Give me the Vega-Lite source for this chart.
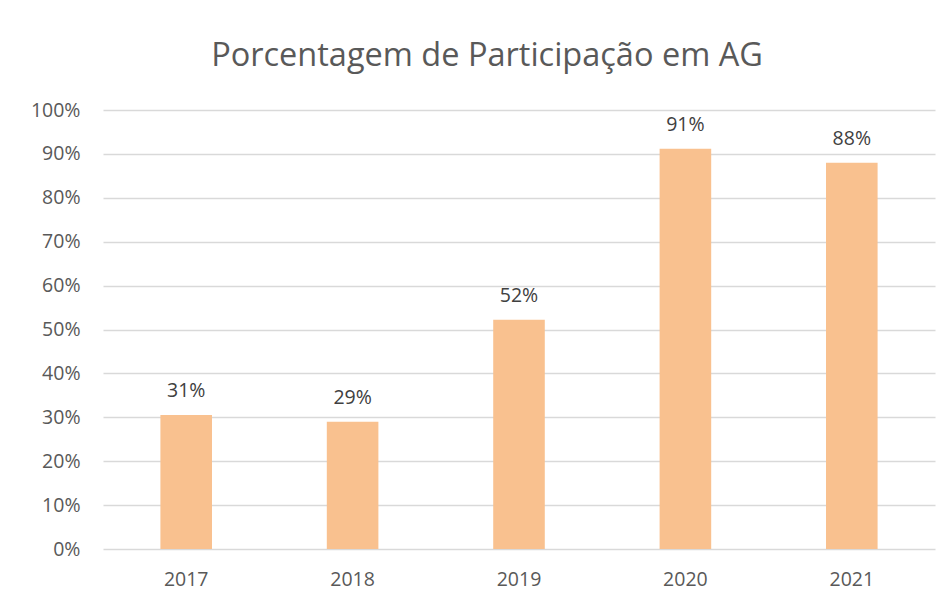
{
  "$schema": "https://vega.github.io/schema/vega-lite/v6.json",
  "width": 832,
  "height": 439,
  "autosize": {"type": "none"},
  "padding": {"left": 103, "top": 110, "right": 15, "bottom": 54},
  "background": "white",
  "title": {
    "text": "Porcentagem de Participação em AG",
    "fontSize": 32.5,
    "font": "Open Sans",
    "fontWeight": "normal",
    "color": "#595959",
    "anchor": "middle",
    "frame": "group",
    "dx": -32,
    "offset": 28
  },
  "data": {
    "values": [
      {"ano": "2017", "pct": 0.305, "label": "31%"},
      {"ano": "2018", "pct": 0.29, "label": "29%"},
      {"ano": "2019", "pct": 0.522, "label": "52%"},
      {"ano": "2020", "pct": 0.912, "label": "91%"},
      {"ano": "2021", "pct": 0.88, "label": "88%"}
    ]
  },
  "config": {
    "view": {"stroke": null},
    "axis": {"labelFont": "Open Sans", "labelColor": "#595959", "labelFontSize": 19.5}
  },
  "encoding": {
    "x": {
      "field": "ano",
      "type": "nominal",
      "scale": {"paddingInner": 0.69, "paddingOuter": 0.345},
      "axis": {"title": null, "labelAngle": 0, "ticks": false, "domain": false, "labelPadding": 21}
    },
    "y": {
      "field": "pct",
      "type": "quantitative",
      "scale": {"domain": [0, 1], "nice": false},
      "axis": {
        "title": null,
        "format": ".0%",
        "values": [0, 0.1, 0.2, 0.3, 0.4, 0.5, 0.6, 0.7, 0.8, 0.9, 1],
        "ticks": false,
        "domain": false,
        "gridColor": "#D9D9D9",
        "gridWidth": 1.5,
        "labelPadding": 23
      }
    }
  },
  "layer": [
    {"mark": {"type": "bar", "color": "#F9C18F"}},
    {
      "mark": {"type": "text", "baseline": "bottom", "dy": -14, "font": "Open Sans", "fontSize": 19.5, "color": "#404040"},
      "encoding": {"text": {"field": "label"}}
    }
  ]
}
